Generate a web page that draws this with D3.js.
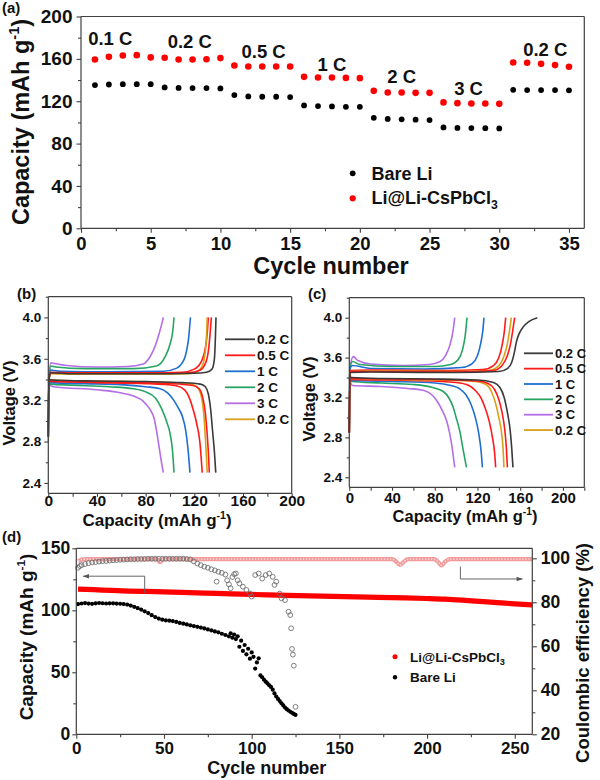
<!DOCTYPE html>
<html>
<head>
<meta charset="utf-8">
<script src="https://cdn.jsdelivr.net/npm/d3@7/dist/d3.min.js"></script>
<style>
html,body{margin:0;padding:0;background:#fff;}
svg text{font-family:"Liberation Sans",Arial,Helvetica,sans-serif;font-weight:bold;fill:#111;}
</style>
</head>
<body>
<svg id="fig" width="600" height="780" xmlns="http://www.w3.org/2000/svg"></svg>
<script>
// ================= DATA =================
// ---- Panel (a): rate performance ----
const rateCycles = [1,2,3,4,5,6,7,8,9,10,11,12,13,14,15,16,17,18,19,20,21,22,23,24,25,26,27,28,29,30,31,32,33,34,35];
const rateBareLi = [135.2,135.8,136.1,136.1,136.1, 133.0,132.6,132.4,132.4,132.1, 125.8,124.5,124.2,124.2,123.9,
                    116.0,115.4,115.1,114.7,114.7, 104.3,103.3,102.9,102.6,102.2, 95.3,94.8,94.6,94.5,94.3,
                    130.8,130.5,130.5,130.5,130.3];
const rateLiCs   = [159.4,161.9,163.2,163.5,161.4, 161.0,159.4,159.4,159.7,160.7, 153.8,152.8,152.8,152.8,152.8,
                    143.0,142.4,142.4,142.0,141.8, 129.8,128.3,128.3,127.9,127.9, 118.9,118.2,117.9,117.9,117.5,
                    156.6,156.3,155.3,154.1,152.5];
const rateLabels   = ["0.1 C","0.2 C","0.5 C","1 C","2 C","3 C","0.2 C"];
const rateLabelCyc = [2.1, 7.8, 13.1, 18.0, 23.0, 27.8, 33.3];
const rateLabelCap = [173, 170, 161, 148.5, 137, 125.7, 163];
const seriesNamesA = ["Bare Li","Li@Li-CsPbCl"];

// ---- Panel (b): Bare Li charge/discharge profiles [capacity, voltage] ----
const rateNames = ["0.2 C","0.5 C","1 C","2 C","3 C","0.2 C"];
const bChg02  = [[0,2.85],[0.6,3.4],[2,3.465],[20,3.455],[80,3.455],[120,3.46],[130,3.47],[134.5,3.5],[136.5,3.6],[137.3,3.8],[137.8,4.0]];
const bDis02  = [[0,3.42],[2,3.395],[40,3.385],[80,3.38],[110,3.37],[125,3.355],[129,3.33],[131.5,3.26],[133.5,3.1],[135,2.9],[136.5,2.7],[137.6,2.5]];
const bChg05  = [[0,2.85],[0.6,3.4],[2,3.465],[20,3.46],[80,3.46],[115,3.465],[124.7,3.49],[129.6,3.57],[131.8,3.7],[133,3.85],[134,4.0]];
const bDis05  = [[0,3.41],[2,3.39],[40,3.375],[90,3.365],[118,3.345],[124,3.31],[127,3.22],[129,3.08],[130.5,2.88],[131.5,2.7],[132.3,2.5]];
const bChg05b = [[0,2.85],[0.6,3.4],[2,3.47],[20,3.465],[80,3.465],[110,3.47],[120,3.5],[126,3.58],[129,3.7],[130.6,3.85],[131.5,4.0]];
const bDis05b = [[0,3.4],[2,3.38],[40,3.37],[80,3.36],[105,3.34],[112,3.3],[116,3.22],[119,3.11],[122,2.97],[124.5,2.8],[126.5,2.5]];
const bChg1   = [[0,2.85],[0.6,3.4],[2,3.49],[10,3.48],[50,3.475],[95,3.48],[105.6,3.51],[110,3.56],[112.4,3.62],[114,3.7],[115.3,3.8],[116.8,4.0]];
const bDis1   = [[0,3.40],[2,3.37],[30,3.36],[60,3.35],[80,3.33],[92,3.31],[98,3.27],[103,3.2],[107,3.12],[110,3.05],[113,2.9],[115,2.7],[116.4,2.5]];
const bChg2   = [[0,2.85],[0.6,3.4],[2,3.53],[6,3.52],[30,3.505],[70,3.505],[89,3.53],[96,3.62],[100,3.74],[102.3,3.87],[103.3,4.0]];
const bDis2   = [[0,3.39],[2,3.355],[20,3.345],[50,3.33],[70,3.31],[80,3.28],[88,3.22],[93,3.12],[97,3.0],[100,2.88],[102,2.72],[103.3,2.5]];
const bChg3   = [[0,2.85],[0.6,3.4],[2,3.56],[5,3.555],[15,3.535],[40,3.52],[65,3.525],[78,3.55],[83.6,3.62],[87.7,3.72],[91.2,3.85],[93.5,3.95],[94.5,4.0]];
const bDis3   = [[0,3.38],[2,3.34],[4,3.33],[40,3.30],[60,3.27],[70,3.24],[78,3.19],[83,3.12],[87,3.02],[89,2.9],[91,2.75],[93,2.6],[94.5,2.5]];
const bChg02b = [[0,2.8],[0.6,3.4],[2,3.455],[20,3.45],[80,3.45],[115,3.455],[122,3.475],[126,3.52],[128,3.59],[129.3,3.7],[130,3.82],[130.6,4.0]];
const bDis02b = [[0,3.42],[2,3.395],[40,3.385],[90,3.375],[115,3.36],[122,3.33],[125,3.27],[127,3.15],[128.5,2.95],[129.5,2.75],[130.6,2.5]];

// ---- Panel (c): Li@Li-CsPbCl3 charge/discharge profiles ----
const cChg02  = [[0,2.85],[0.6,3.45],[20,3.455],[100,3.45],[140,3.46],[148,3.49],[152,3.55],[154.5,3.65],[156.5,3.76],[159,3.84],[163,3.91],[168,3.96],[176,4.0]];
const cDis02  = [[0,3.42],[2,3.40],[30,3.39],[80,3.385],[120,3.375],[135,3.35],[141,3.3],[145,3.2],[148,3.05],[150.5,2.88],[152,2.7],[153.2,2.5]];
const cChg05  = [[0,2.85],[0.6,3.46],[20,3.46],[100,3.455],[135,3.47],[143,3.52],[148,3.62],[151,3.74],[153,3.87],[154.8,4.0]];
const cDis05  = [[0,3.41],[2,3.39],[80,3.38],[120,3.365],[130,3.34],[136,3.28],[140,3.18],[143,3.05],[145.5,2.88],[147,2.7],[148,2.5]];
const cChg05b = [[0,2.85],[0.6,3.47],[20,3.475],[90,3.47],[125,3.48],[135,3.52],[140,3.6],[143,3.72],[145,3.85],[146.4,4.0]];
const cDis05b = [[0,3.40],[2,3.38],[60,3.37],[100,3.35],[112,3.32],[118,3.27],[123,3.2],[127,3.1],[131,2.96],[134,2.8],[136,2.65],[137,2.5]];
const cChg1   = [[0,2.85],[0.6,3.49],[3,3.52],[20,3.49],[70,3.485],[105,3.5],[115,3.54],[120,3.62],[123,3.74],[125,3.87],[126.1,4.0]];
const cDis1   = [[0,3.40],[2,3.37],[40,3.36],[80,3.345],[95,3.32],[103,3.29],[109,3.23],[114,3.13],[118,3.0],[121,2.85],[123.5,2.65],[124.6,2.5]];
const cChg2   = [[0,2.85],[0.6,3.5],[3,3.56],[10,3.53],[40,3.51],[80,3.51],[95,3.53],[102,3.58],[106,3.68],[108.5,3.82],[110.2,4.0]];
const cDis2   = [[0,3.39],[2,3.36],[30,3.345],[60,3.33],[78,3.30],[88,3.26],[93,3.2],[97,3.11],[100,3.0],[103.5,2.86],[106.5,2.68],[109.7,2.5]];
const cChg3   = [[0,2.85],[0.6,3.5],[3.8,3.61],[8,3.57],[20,3.535],[50,3.52],[75,3.53],[85,3.56],[90,3.62],[94,3.72],[97,3.86],[98.7,4.0]];
const cDis3   = [[0,3.38],[3,3.32],[30,3.31],[55,3.29],[70,3.27],[78,3.22],[83,3.15],[87,3.07],[91,2.97],[94,2.84],[96.5,2.68],[98.7,2.5]];
const cChg02b = [[0,2.85],[0.6,3.46],[20,3.465],[100,3.46],[130,3.47],[140,3.52],[145,3.62],[148,3.74],[150,3.87],[151.7,4.0]];
const cDis02b = [[0,3.41],[2,3.39],[80,3.375],[118,3.36],[128,3.33],[133,3.26],[137,3.14],[140,3.0],[142.5,2.85],[144,2.68],[144.8,2.5]];

// ---- Panel (d): long cycling ----
const liCsCapCyc = [1,10,20,30,40,60,80,100,120,140,160,180,200,210,220,230,240,250,260];
const liCsCap    = [117,116.6,116,115.5,115.2,114.5,113.6,112.8,112,111.4,110.8,110.2,109.5,109.0,108.2,107.2,106.2,105.2,104.3];
const liCsCECyc  = [1,3,6,46,47.7,49.5,180,182,184.5,187,189,204,206,208.2,210.5,213,260];
const liCsCE     = [98.6,99.4,99.6,99.6,98.2,99.6,99.6,98.8,97.0,98.6,99.6,99.6,98.6,96.8,98.6,99.6,99.6];
const bareCapCyc = [1,3,5,7,9,11,13,15,17,19,21,23,25,27,29,31,33,35,37,39,41,43,45,47,49,51,53,55,57,59,61,63,65,67,69,71,73,75,77,79,81,83,85,87,88,89,90,91,92,93,94,95,96,97,98,99,100,101,102,103,104,105,106,107,108,109,110,111,112,113,114,115,116,117,118,119,120,121,122,123,124,125];
const bareCap    = [105.0,105.5,105.8,105.4,105.2,105.6,105.9,105.7,105.5,105.6,105.6,105.4,105.3,105.0,104.6,103.8,102.8,101.7,100.6,99.2,97.8,96.1,94.5,93.3,92.4,91.9,91.6,91.3,90.6,89.8,89.2,88.6,87.9,87.3,86.7,86.1,85.4,84.6,83.8,83.0,82.2,81.1,80.1,79.0,81.5,77.9,80.5,76.8,79.0,70.6,75.5,67.2,72.0,64.5,69.0,61.0,66.0,62.5,53.0,58.0,61.3,47.5,46.0,44.0,42.4,41.0,39.5,38.2,36.0,33.0,30.5,28.5,26.8,25.0,23.3,21.6,20.3,19.2,18.2,17.3,16.4,15.6];
const bareCECyc  = [1,2,3,5,7,9,11,13,15,17,19,21,23,25,27,29,31,33,35,37,39,41,43,45,47,49,51,53,55,57,59,61,63,65,67,69,71,73,75,77,79,80,81,83,85,86,87,88,89,90,91,92,93,95,97,99,100,102,104,106,108,110,112,113,114,116,117,119,121,122,122.5,123,123.5,124,125];
const bareCE     = [95.7,96.5,96.9,97.4,97.8,98.1,98.3,98.5,98.7,98.8,99.0,99.1,99.2,99.3,99.4,99.5,99.6,99.6,99.7,99.7,99.7,99.8,99.8,99.8,99.8,99.8,99.8,99.8,99.8,99.8,99.8,99.8,99.7,99.5,98.6,97.6,96.9,96.2,95.7,95.0,94.5,89.4,93.9,93.4,92.6,90.0,88.2,86.4,91.5,92.8,93.1,90.0,88.6,87.1,85.6,84.0,82.6,92.4,93.1,90.8,92.4,93.1,91.6,87.9,89.4,84.0,81.8,81.0,75.7,74.2,68.2,58.8,56.2,51.2,32.5];

// ================= DRAWING =================
const FONT = '"Liberation Sans", Arial, Helvetica, sans-serif';
const AX = "#404040";
const svg = d3.select("#fig");
svg.append("rect").attr("width",600).attr("height",780).attr("fill","#fff");

function axis(g, scale, orient, tr, major, minor, o){
  const mk = {bottom:d3.axisBottom, left:d3.axisLeft, right:d3.axisRight}[orient];
  const a1 = g.append("g").attr("transform",tr)
     .call(mk(scale).tickValues(minor).tickSize(o.ml).tickFormat(""));
  const a2 = g.append("g").attr("transform",tr)
     .call(mk(scale).tickValues(major).tickSize(o.l).tickPadding(o.pad).tickFormat(o.fmt || (d=>d)));
  [a1,a2].forEach(a=>{ a.select(".domain").remove(); a.selectAll("line").attr("stroke",AX).attr("stroke-width",1.1); });
  a2.selectAll("text").attr("font-size",o.fs).attr("fill","#111")
    .style("font-family",FONT).style("font-weight","bold");
  return a2;
}
function frame(g, x, y, sides){
  const [x0,x1] = x.range(), [y0,y1] = y.range();
  const L = {left:[x0,y0,x0,y1], right:[x1,y0,x1,y1], top:[x0,y1,x1,y1], bottom:[x0,y0,x1,y0]};
  sides.forEach(s=>{ const p=L[s]; g.append("line").attr("x1",p[0]).attr("y1",p[1]).attr("x2",p[2]).attr("y2",p[3])
      .attr("stroke",AX).attr("stroke-width",1.2); });
}
function capTitle(t, fs){
  t.append("tspan").text("Capacity (mAh g");
  t.append("tspan").attr("font-size",fs*0.62).attr("dy",-fs*0.42).text("-1");
  t.append("tspan").attr("dy",fs*0.42).text(")");
}
function subName(t, base, sub, fs){
  t.append("tspan").text(base);
  t.append("tspan").attr("font-size",fs*0.68).attr("dy",fs*0.28).text(sub);
}

// ---------- Panel (a) ----------
{
  const g = svg.append("g");
  const x = d3.scaleLinear().domain([0,36.1]).range([81,584.3]);
  const y = d3.scaleLinear().domain([0,200]).range([228.3,16.5]);
  frame(g,x,y,["left","bottom","top","right"]);
  axis(g,x,"bottom",`translate(0,${y(0)})`,[0,5,10,15,20,25,30,35],[2.5,7.5,12.5,17.5,22.5,27.5,32.5],{l:4.5,ml:3,pad:4,fs:18.5});
  axis(g,y,"left",`translate(${x(0)},0)`,[0,40,80,120,160,200],[20,60,100,140,180],{l:4.5,ml:3,pad:4,fs:19});
  g.selectAll("circle.b").data(rateCycles).join("circle").attr("class","b")
    .attr("cx",d=>x(d)).attr("cy",(d,i)=>y(rateBareLi[i])).attr("r",2.9).attr("fill","#000");
  g.selectAll("circle.r").data(rateCycles).join("circle").attr("class","r")
    .attr("cx",d=>x(d)).attr("cy",(d,i)=>y(rateLiCs[i])).attr("r",3.3).attr("fill","#ff0000");
  g.selectAll("text.rl").data(rateLabels).join("text").attr("class","rl")
    .attr("x",(d,i)=>x(rateLabelCyc[i])).attr("y",(d,i)=>y(rateLabelCap[i]))
    .attr("text-anchor","middle").attr("font-size",18.5).text(d=>d);
  // legend
  g.append("circle").attr("cx",352.7).attr("cy",173.3).attr("r",2.9).attr("fill","#000");
  g.append("text").attr("x",371.5).attr("y",179.5).attr("font-size",18).text(seriesNamesA[0]);
  g.append("circle").attr("cx",352.7).attr("cy",198.3).attr("r",3.1).attr("fill","#ff0000");
  subName(g.append("text").attr("x",371.5).attr("y",203.5).attr("font-size",18), seriesNamesA[1], "3", 18);
  // titles
  g.append("text").attr("x",331).attr("y",273.5).attr("text-anchor","middle").attr("font-size",23.5).text("Cycle number");
  capTitle(g.append("text").attr("transform","translate(29,122) rotate(-90)").attr("text-anchor","middle").attr("font-size",23.5), 23.5);
  g.append("text").attr("x",2).attr("y",13).attr("font-size",15).text("(a)");
}

// ---------- Panels (b), (c) ----------
const profColors = ["#3a3a3a","#ff1a1a","#1f6fd1","#26a463","#b46ee6","#d9a01a"];
function profilePanel(xr, yr, xmax, series, leg, lab, xt, yt, fsx, fsy){
  const g = svg.append("g");
  const x = d3.scaleLinear().domain([0,xmax]).range(xr);
  const y = d3.scaleLinear().domain([2.3,4.2]).range(yr);
  const line = d3.line().x(d=>x(d[0])).y(d=>y(d[1])).curve(d3.curveMonotoneX);
  series.forEach(s=>{
    [s.chg, s.dis].forEach(arr=>{
      g.append("path").attr("d",line(arr)).attr("fill","none").attr("stroke",s.color)
        .attr("stroke-width",1.6).attr("stroke-linejoin","round");
    });
  });
  frame(g,x,y,["left","bottom","top","right"]);
  const xmin = xmax>200 ? [20,60,100,140,180,220] : [20,60,100,140,180];
  axis(g,x,"bottom",`translate(0,${yr[0]})`,[0,40,80,120,160,200],xmin,{l:3.5,ml:3.5,pad:xt.pad,fs:fsx});
  axis(g,y,"left",`translate(${xr[0]},0)`,[2.4,2.8,3.2,3.6,4.0],[2.6,3.0,3.4,3.8,4.2],{l:4,ml:2.5,pad:3,fs:fsy,fmt:d3.format(".1f")});
  // legend
  rateNames.forEach((n,i)=>{
    const ly = leg.y0 + i*leg.dy;
    g.append("line").attr("x1",leg.x).attr("x2",leg.x+leg.w).attr("y1",ly).attr("y2",ly)
      .attr("stroke",profColors[i]).attr("stroke-width",1.8);
    g.append("text").attr("x",leg.x+leg.w+2).attr("y",ly+4.6).attr("font-size",leg.fs).text(n);
  });
  g.append("text").attr("x",lab[0]).attr("y",lab[1]).attr("font-size",15).text(lab[2]);
  capTitle(g.append("text").attr("x",xt.x).attr("y",xt.y).attr("text-anchor","middle").attr("font-size",xt.fs),xt.fs);
  g.append("text").attr("transform",`translate(${yt.x},${yt.y}) rotate(-90)`).attr("text-anchor","middle")
    .attr("font-size",yt.fs).text("Voltage (V)");
}
profilePanel([48.3,291.7],[493.3,296.7],200,[
  {color:profColors[4],chg:bChg3,dis:bDis3},
  {color:profColors[3],chg:bChg2,dis:bDis2},
  {color:profColors[2],chg:bChg1,dis:bDis1},
  {color:profColors[1],chg:bChg05b,dis:bDis05b},
  {color:profColors[5],chg:bChg02b,dis:bDis02b},
  {color:profColors[1],chg:bChg05,dis:bDis05},
  {color:profColors[0],chg:bChg02,dis:bDis02}
],{x:225,w:30,y0:339.3,dy:16,fs:13.5},[17,299,"(b)"],{x:157,y:526,pad:-1.5,fs:17},{x:14.5,y:403,fs:16.5},15.5,13.5);

profilePanel([349.3,584.3],[487.3,297.7],220,[
  {color:profColors[4],chg:cChg3,dis:cDis3},
  {color:profColors[3],chg:cChg2,dis:cDis2},
  {color:profColors[2],chg:cChg1,dis:cDis1},
  {color:profColors[1],chg:cChg05b,dis:cDis05b},
  {color:profColors[5],chg:cChg02b,dis:cDis02b},
  {color:profColors[1],chg:cChg05,dis:cDis05},
  {color:profColors[0],chg:cChg02,dis:cDis02}
],{x:524,w:29,y0:353.3,dy:15.35,fs:13},[308,299,"(c)"],{x:465,y:522,pad:2,fs:16.5},{x:315,y:399,fs:16.5},15,13.5);

// ---------- Panel (d) ----------
{
  const g = svg.append("g");
  const x = d3.scaleLinear().domain([0,260]).range([76.3,532.3]);
  const yL = d3.scaleLinear().domain([0,150]).range([734.3,548.3]);
  const yR = d3.scaleLinear().domain([20,104.55]).range([734.3,548.3]);
  // Li@Li-CsPbCl3 coulombic efficiency band
  const ceLine = d3.line().x((d,i)=>x(liCsCECyc[i])).y(d=>yR(d)).curve(d3.curveMonotoneX);
  g.append("path").attr("d",ceLine(liCsCE)).attr("fill","none").attr("stroke","#f39a9a").attr("stroke-width",4.2);
  g.append("path").attr("d",ceLine(liCsCE)).attr("fill","none").attr("stroke","#fde4e4").attr("stroke-width",1.3).attr("stroke-dasharray","1.4 1.6");
  // Li@Li-CsPbCl3 capacity
  const capLine = d3.line().x((d,i)=>x(liCsCapCyc[i])).y(d=>yL(d)).curve(d3.curveMonotoneX);
  g.append("path").attr("d",capLine(liCsCap)).attr("fill","none").attr("stroke","#ff0000").attr("stroke-width",5.2);
  // Bare Li capacity
  g.selectAll("circle.bc").data(bareCapCyc).join("circle").attr("class","bc")
    .attr("cx",d=>x(d)).attr("cy",(d,i)=>yL(bareCap[i])).attr("r",2.1).attr("fill","#000");
  // Bare Li CE
  g.selectAll("circle.bce").data(bareCECyc).join("circle").attr("class","bce")
    .attr("cx",d=>x(d)).attr("cy",(d,i)=>yR(bareCE[i])).attr("r",2.4).attr("fill","none")
    .attr("stroke","#707070").attr("stroke-width",0.9);
  frame(g,x,yL,["left","bottom","top","right"]);
  axis(g,x,"bottom",`translate(0,734.3)`,[0,50,100,150,200,250],[25,75,125,175,225],{l:4.5,ml:3,pad:3,fs:17});
  axis(g,yL,"left",`translate(76.3,0)`,[0,50,100,150],[25,75,125],{l:4,ml:3,pad:2,fs:17.5});
  axis(g,yR,"right",`translate(532.3,0)`,[20,40,60,80,100],[30,50,70,90],{l:4.5,ml:3,pad:4,fs:17.5});
  // arrows
  const arr = (pts, dir)=>{
    g.append("path").attr("d",d3.line()(pts)).attr("fill","none").attr("stroke","#666").attr("stroke-width",1);
    const [ex,ey] = pts[pts.length-1];
    const s = dir<0 ? `M${ex},${ey}l6,-2.3v4.6z` : `M${ex},${ey}l-6,-2.3v4.6z`;
    g.append("path").attr("d",s).attr("fill","#555");
  };
  arr([[x(39),yL(114)],[x(39),yL(127.5)],[x(3.8),yL(127.5)]],-1);
  arr([[x(219),yR(96.2)],[x(219),yR(90.6)],[x(254.5),yR(90.6)]],1);
  // legend
  g.append("circle").attr("cx",395).attr("cy",656.7).attr("r",2.5).attr("fill","#ff0000");
  subName(g.append("text").attr("x",410).attr("y",661.5).attr("font-size",13.5), "Li@Li-CsPbCl", "3", 13.5);
  g.append("circle").attr("cx",395).attr("cy",677.3).attr("r",2.2).attr("fill","#000");
  g.append("text").attr("x",410).attr("y",682).attr("font-size",13.5).text("Bare Li");
  // titles
  g.append("text").attr("x",266.7).attr("y",774).attr("text-anchor","middle").attr("font-size",18).text("Cycle number");
  capTitle(g.append("text").attr("transform","translate(33,637) rotate(-90)").attr("text-anchor","middle").attr("font-size",19),19);
  g.append("text").attr("transform","translate(589,653) rotate(-90)").attr("text-anchor","middle")
    .attr("font-size",18.5).text("Coulombic efficiency (%)");
  g.append("text").attr("x",2).attr("y",542).attr("font-size",15).text("(d)");
}
</script>
</body>
</html>
